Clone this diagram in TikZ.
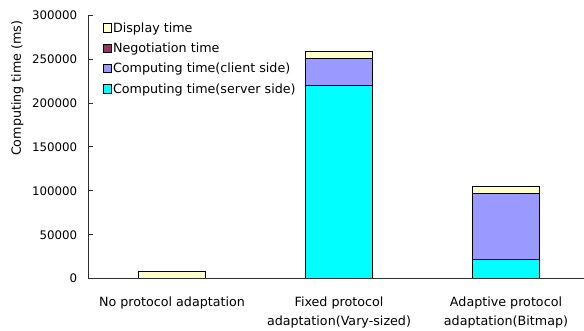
\documentclass[tikz,border=0pt]{standalone}
\usepackage{fontspec}
\setmainfont{DejaVu Sans}
\usepackage{xcolor}
\usepackage{tikz}
\usetikzlibrary{positioning}
\definecolor{dispfill}{HTML}{FFFFCC}
\definecolor{negofill}{HTML}{993366}
\definecolor{clientfill}{HTML}{9999FF}
\definecolor{serverfill}{HTML}{00FFFF}
\definecolor{axisline}{HTML}{2D2D2D}
\newcommand{\chartfont}{\fontsize{12.7}{19}\selectfont}
\newcommand{\tickfont}{\fontsize{11.8}{14}\selectfont}
\tikzset{
    axis/.style={draw=axisline, line width=1pt},
    bar/.style={draw=black, line width=0.9pt},
    ticklabel/.style={anchor=east, inner sep=0pt, font=\tickfont},
    catlabel/.style={anchor=north, align=center, inner sep=0pt, font=\chartfont},
    keybox/.style={draw=black, line width=0.6pt, minimum size=8.4pt, inner sep=0pt},
    keytext/.style={anchor=base west, inner sep=0pt, font=\chartfont}
}

\begin{document}
\begin{tikzpicture}[x=1pt, y=1pt]
    \useasboundingbox (0,0) rectangle (584,331);
    \coordinate (origin) at (88.5,52.3);

    % stacked bars, values in thousands of ms
    \begin{scope}[shift={(origin)}, y=0.878pt]
        \draw [bar, fill=dispfill] (50,0) rectangle (117,7.7);

        \draw [bar, fill=serverfill] (217,0) rectangle (284,219.8);
        \draw [bar, fill=clientfill] (217,219.8) rectangle (284,250.8);
        \draw [bar, fill=dispfill] (217,250.8) rectangle (284,258.3);

        \draw [bar, fill=serverfill] (384,0) rectangle (451,21.7);
        \draw [bar, fill=clientfill] (384,21.7) rectangle (451,96.8);
        \draw [bar, fill=dispfill] (384,96.8) rectangle (451,104.7);

        \foreach \v/\t in {0/0, 50/50000, 100/100000, 150/150000, 200/200000, 250/250000, 300/300000} {
            \draw [axis] (0,\v) -- (4,\v);
            \node [ticklabel] (tick\v) at (-11.2,\v) {\t};
        }
        \draw [axis] (0,300) -- (0,0) -- (496,0);
    \end{scope}

    \node [font=\chartfont, inner sep=0pt, rotate=90] (ylabel) at (17.3,242.7) {Computing time (ms)};

    \node [catlabel] (noadapt) at (172,34.3) {No protocol adaptation};
    \node [catlabel] (fixadapt) at (339,34.3) {Fixed protocol\\adaptation(Vary-sized)};
    \node [catlabel] (adaadapt) at (506,34.3) {Adaptive protocol\\adaptation(Bitmap)};

    % legend
    \node [keybox, fill=dispfill] (keydisp) at (107.5,303.3) {};
    \node [keybox, fill=negofill] (keynego) at (107.5,282.7) {};
    \node [keybox, fill=clientfill] (keyclient) at (107.5,262.7) {};
    \node [keybox, fill=serverfill] (keyserver) at (107.5,242.3) {};
    \node [keytext] (labdisp) at ([xshift=0.8pt, yshift=-4.6pt]keydisp.east) {Display time};
    \node [keytext] (labnego) at ([xshift=0.8pt, yshift=-4.6pt]keynego.east) {Negotiation time};
    \node [keytext] (labclient) at ([xshift=0.8pt, yshift=-4.6pt]keyclient.east) {Computing time(client side)};
    \node [keytext] (labserver) at ([xshift=0.8pt, yshift=-4.6pt]keyserver.east) {Computing time(server side)};
\end{tikzpicture}
\end{document}
